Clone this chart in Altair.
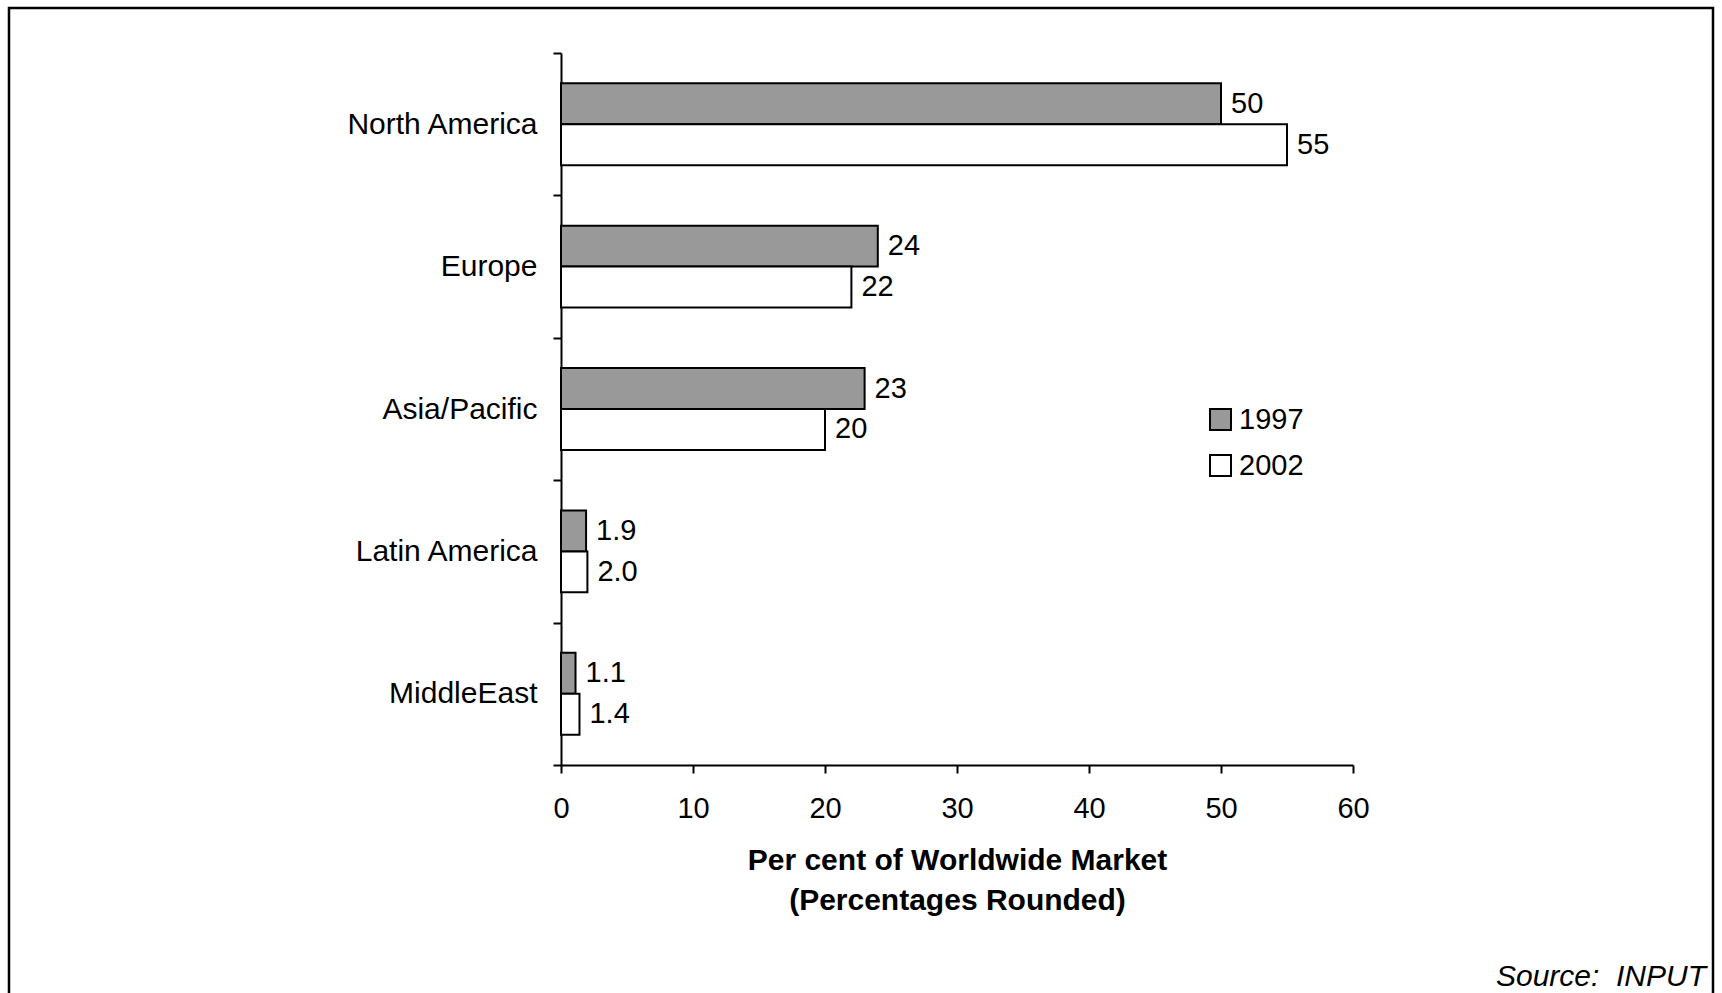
import altair as alt
import pandas as pd

# Share of the worldwide market by region, 1997 vs 2002 (percentages rounded)
regions = ["North America", "Europe", "Asia/Pacific", "Latin America", "MiddleEast"]
years = ["1997", "2002"]
share_1997 = [50, 24, 23, 1.9, 1.1]
share_2002 = [55, 22, 20, 2.0, 1.4]
x_ticks = [0, 10, 20, 30, 40, 50, 60]

rows = []
for region, a, b in zip(regions, share_1997, share_2002):
    rows.append({"region": region, "year": years[0], "share": a})
    rows.append({"region": region, "year": years[1], "share": b})
df = pd.DataFrame(rows)

FONT = "Liberation Sans"
FS_TEXT = 30
FS_NUM = 29
W, H = 792, 712

y_enc = alt.Y(
    "region:N",
    sort=regions,
    scale=alt.Scale(paddingInner=0, paddingOuter=0),
    axis=alt.Axis(
        title=None,
        tickBand="extent",
        tickSize=8,
        tickWidth=2,
        tickColor="black",
        domainColor="black",
        domainWidth=2,
        labelFont=FONT,
        labelFontSize=FS_TEXT,
        labelColor="black",
        labelPadding=16,
        labelLimit=0,
    ),
)
y_off = alt.YOffset(
    "year:N",
    sort=years,
    scale=alt.Scale(paddingInner=0, paddingOuter=0.738),
)
x_enc = alt.X(
    "share:Q",
    scale=alt.Scale(domain=[0, 60], nice=False),
    axis=alt.Axis(
        values=x_ticks,
        format="d",
        grid=False,
        labelFlush=False,
        tickSize=8,
        tickWidth=2,
        tickColor="black",
        domainColor="black",
        domainWidth=2,
        labelFont=FONT,
        labelFontSize=FS_NUM,
        labelColor="black",
        labelPadding=21,
        title=["Per cent of Worldwide Market", "(Percentages Rounded)"],
        titleFont=FONT,
        titleFontSize=FS_TEXT,
        titleFontWeight="bold",
        titleColor="black",
        titleLineHeight=40,
        titlePadding=22,
    ),
)

bars = alt.Chart(df).mark_bar(stroke="black", strokeWidth=2).encode(
    y=y_enc,
    yOffset=y_off,
    x=x_enc,
    color=alt.Color(
        "year:N",
        scale=alt.Scale(domain=years, range=["#999999", "#ffffff"]),
        legend=alt.Legend(
            title=None,
            orient="none",
            legendX=645,
            legendY=352,
            padding=0,
            symbolType="square",
            symbolSize=441,
            symbolStrokeColor="black",
            symbolStrokeWidth=2,
            symbolOpacity=1,
            labelFont=FONT,
            labelFontSize=FS_NUM,
            labelColor="black",
            labelOffset=4,
            rowPadding=16,
        ),
    ),
)

labels = (
    alt.Chart(df)
    .transform_calculate(
        label="datum.share < 10 ? format(datum.share, '.1f') : format(datum.share, 'd')"
    )
    .mark_text(align="left", baseline="middle", dx=10, font=FONT, fontSize=FS_NUM, color="black")
    .encode(y=alt.Y("region:N", sort=regions), yOffset=alt.YOffset("year:N", sort=years),
            x="share:Q", text="label:N")
)

frame = alt.Chart(pd.DataFrame({"k": [0]})).mark_rect(
    fill=None, stroke="black", strokeWidth=2.5, clip=False
).encode(
    x=alt.value(-552), x2=alt.value(1152), y=alt.value(-45), y2=alt.value(960)
)

source = alt.Chart(pd.DataFrame({"k": [0]})).mark_text(
    text="Source:\u00a0 INPUT", align="right", baseline="middle",
    font=FONT, fontSize=FS_TEXT, fontStyle="italic", color="black",
).encode(x=alt.value(1145), y=alt.value(924))

chart = (
    alt.layer(frame, bars, labels, source)
    .properties(
        width=W,
        height=H,
        background="white",
        autosize=alt.AutoSizeParams(type="none"),
        padding={"left": 561, "top": 53, "right": 369, "bottom": 228},
    )
    .configure_view(stroke=None)
)

chart.save("out.html", embed_options={"renderer": "svg", "actions": False})
